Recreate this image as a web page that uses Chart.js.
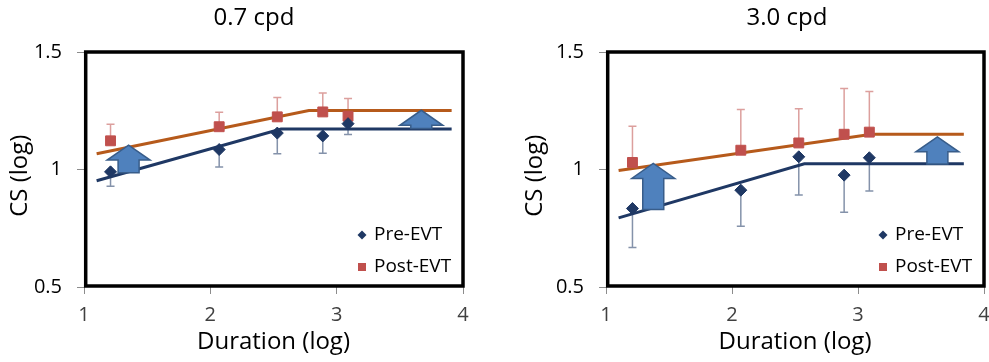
<!DOCTYPE html>
<html lang="en">
<head>
  <meta charset="UTF-8" />
  <title>CS vs Duration, pre/post EVT</title>
  <style>
    body {
      margin: 0;
      width: 989px;
      height: 362px;
      overflow: hidden;
      position: relative;
      background: #fff;
    }
    .panel {
      position: absolute;
      top: 0;
      height: 362px;
    }
    #panelLow { left: 0; width: 508px; }
    #panelHigh { left: 495px; width: 584px; }
  </style>
</head>
<body>
  <div class="panel" id="panelLow"><canvas id="chartLow" width="508" height="362"></canvas></div>
  <div class="panel" id="panelHigh"><canvas id="chartHigh" width="584" height="362"></canvas></div>

  <script src="https://cdn.jsdelivr.net/npm/chart.js"></script>
  <script>
    // durations (log) shared by both panels
    const durations = [1.21, 2.07, 2.53, 2.89, 3.09];

    // 0.7 cpd
    const lowPre = [0.99, 1.085, 1.155, 1.143, 1.195];
    const lowPreErr = [0.061, 0.074, 0.088, 0.074, 0.046];
    const lowPost = [1.122, 1.182, 1.224, 1.245, 1.227];
    const lowPostErr = [0.071, 0.062, 0.082, 0.081, 0.075];
    const lowPreFitX = [1.10, 2.56, 3.91];
    const lowPreFitY = [0.952, 1.172, 1.172];
    const lowPostFitX = [1.10, 2.78, 3.91];
    const lowPostFitY = [1.067, 1.251, 1.251];
    const lowArrowX = [1.353, 3.67];
    const lowArrowFrom = [0.986, 1.174];
    const lowArrowTo = [1.104, 1.252];

    // 3.0 cpd
    const highPre = [0.834, 0.912, 1.054, 0.976, 1.05];
    const highPreErr = [0.166, 0.153, 0.163, 0.158, 0.141];
    const highPost = [1.03, 1.082, 1.113, 1.15, 1.159];
    const highPostErr = [0.154, 0.173, 0.145, 0.195, 0.173];
    const highPreFitX = [1.10, 2.574, 3.84];
    const highPreFitY = [0.794, 1.024, 1.024];
    const highPostFitX = [1.10, 3.11, 3.84];
    const highPostFitY = [0.996, 1.15, 1.15];
    const highArrowX = [1.375, 3.63];
    const highArrowFrom = [0.83, 1.023];
    const highArrowTo = [1.026, 1.139];

    const yTicks = [0.5, 1, 1.5];
    const xTicks = [1, 2, 3, 4];

    const NAVY = '#1F3864';
    const RED = '#C0504D';
    const ORANGE = '#B65A1B';
    const ARROW_FILL = '#4F81BD';
    const ARROW_EDGE = '#385D8A';

    Chart.defaults.font.family = '"Open Sans", sans-serif';
    Chart.defaults.color = '#000';

    const toPoints = (xs, ys) => xs.map((x, i) => ({ x: x, y: ys[i] }));

    // error bars: pre goes down, post goes up
    const errorBarPlugin = {
      id: 'errorBars',
      beforeDatasetsDraw(chart, args, opts) {
        const { ctx } = chart;
        const xs = chart.scales.x, ys = chart.scales.y;
        ctx.save();
        opts.sets.forEach(set => {
          ctx.strokeStyle = set.color;
          ctx.lineWidth = 1.5;
          set.values.forEach((v, i) => {
            const px = xs.getPixelForValue(durations[i]);
            const p0 = ys.getPixelForValue(v);
            const p1 = ys.getPixelForValue(v + set.dir * set.err[i]);
            ctx.beginPath();
            ctx.moveTo(px, p0);
            ctx.lineTo(px, p1);
            ctx.moveTo(px - 4, p1);
            ctx.lineTo(px + 4, p1);
            ctx.stroke();
          });
        });
        ctx.restore();
      }
    };

    // block arrows showing the shift
    const arrowPlugin = {
      id: 'arrows',
      afterDatasetsDraw(chart, args, opts) {
        const { ctx } = chart;
        const xs = chart.scales.x, ys = chart.scales.y;
        const headH = 15, headW = 21.5, shaftW = 10.5;
        ctx.save();
        ctx.fillStyle = ARROW_FILL;
        ctx.strokeStyle = ARROW_EDGE;
        ctx.lineWidth = 1.5;
        opts.x.forEach((xv, i) => {
          const px = xs.getPixelForValue(xv);
          const pb = ys.getPixelForValue(opts.from[i]);
          const pt = ys.getPixelForValue(opts.to[i]);
          ctx.beginPath();
          ctx.moveTo(px - shaftW, pb);
          ctx.lineTo(px - shaftW, pt + headH);
          ctx.lineTo(px - headW, pt + headH);
          ctx.lineTo(px, pt);
          ctx.lineTo(px + headW, pt + headH);
          ctx.lineTo(px + shaftW, pt + headH);
          ctx.lineTo(px + shaftW, pb);
          ctx.closePath();
          ctx.fill();
          ctx.stroke();
        });
        ctx.restore();
      }
    };

    // plot frame and the in-plot legend
    const framePlugin = {
      id: 'frameLegend',
      afterDraw(chart) {
        const { ctx, chartArea: a } = chart;
        ctx.save();
        ctx.strokeStyle = '#000';
        ctx.lineWidth = 3.5;
        ctx.strokeRect(a.left + 1.7, a.top, a.right - a.left - 1.7, a.bottom - 1 - a.top);

        const mx = a.right - 101;
        const rows = [a.bottom - 52, a.bottom - 20];
        ctx.fillStyle = NAVY;
        ctx.beginPath();
        ctx.moveTo(mx - 4.5, rows[0]);
        ctx.lineTo(mx, rows[0] - 4.5);
        ctx.lineTo(mx + 4.5, rows[0]);
        ctx.lineTo(mx, rows[0] + 4.5);
        ctx.closePath();
        ctx.fill();
        ctx.fillStyle = RED;
        ctx.fillRect(mx - 4, rows[1] - 4, 8, 8);

        ctx.fillStyle = '#000';
        ctx.font = '19px "Open Sans", sans-serif';
        ctx.textBaseline = 'middle';
        ctx.textAlign = 'left';
        ctx.fillText(chart.data.datasets[0].label, mx + 12, rows[0]);
        ctx.fillText(chart.data.datasets[1].label, mx + 12, rows[1]);
        ctx.restore();
      }
    };

    function makeChart(id, cfg) {
      const tickMarks = { drawOnChartArea: false, drawTicks: true, tickLength: 7, color: '#8c8c8c' };
      return new Chart(document.getElementById(id), {
        type: 'scatter',
        data: {
          datasets: [
            {
              label: 'Pre-EVT',
              data: toPoints(durations, cfg.pre),
              pointStyle: 'rectRot',
              pointRadius: 6,
              backgroundColor: NAVY,
              borderColor: NAVY,
              borderWidth: 1,
              order: 1
            },
            {
              label: 'Post-EVT',
              data: toPoints(durations, cfg.post),
              pointStyle: 'rect',
              pointRadius: 7,
              backgroundColor: RED,
              borderColor: RED,
              borderWidth: 1,
              order: 2
            },
            {
              label: 'Pre fit',
              data: toPoints(cfg.preFitX, cfg.preFitY),
              showLine: true,
              pointRadius: 0,
              borderColor: NAVY,
              borderWidth: 3,
              order: 3
            },
            {
              label: 'Post fit',
              data: toPoints(cfg.postFitX, cfg.postFitY),
              showLine: true,
              pointRadius: 0,
              borderColor: ORANGE,
              borderWidth: 3,
              order: 4
            }
          ]
        },
        options: {
          responsive: false,
          animation: false,
          events: [],
          layout: { padding: 0 },
          plugins: {
            legend: { display: false },
            tooltip: { enabled: false },
            title: {
              display: true,
              text: cfg.title,
              color: '#000',
              font: { size: 24, weight: 'normal' },
              padding: { top: 4, bottom: 19.2 }
            },
            errorBars: {
              sets: [
                { values: cfg.pre, err: cfg.preErr, dir: -1, color: 'rgba(31,56,100,0.55)' },
                { values: cfg.post, err: cfg.postErr, dir: 1, color: 'rgba(192,80,77,0.55)' }
              ]
            },
            arrows: { x: cfg.arrowX, from: cfg.arrowFrom, to: cfg.arrowTo }
          },
          scales: {
            x: {
              type: 'linear',
              min: xTicks[0],
              max: xTicks[xTicks.length - 1],
              afterBuildTicks: s => { s.ticks = xTicks.map(v => ({ value: v })); },
              ticks: { padding: 9, color: '#404040', font: { size: 20 }, callback: v => String(v) },
              grid: tickMarks,
              border: { display: false },
              title: {
                display: true,
                text: 'Duration (log)',
                color: '#000',
                font: { size: 24 },
                padding: { top: 0, bottom: 5 }
              },
              afterFit: s => { s.height = 75; }
            },
            y: {
              type: 'linear',
              min: yTicks[0],
              max: yTicks[yTicks.length - 1],
              afterBuildTicks: s => { s.ticks = yTicks.map(v => ({ value: v })); },
              ticks: { padding: 15, color: '#000', font: { size: 20 }, callback: v => String(v) },
              grid: tickMarks,
              border: { display: false },
              title: {
                display: true,
                text: 'CS (log)  ',
                color: '#000',
                font: { size: 24 },
                padding: { top: cfg.yTitlePad, bottom: 0 }
              },
              afterFit: s => { s.width = cfg.leftWidth; }
            },
            spacer: {
              type: 'linear',
              position: 'right',
              display: true,
              ticks: { display: false },
              grid: { display: false },
              border: { display: false },
              afterFit: s => { s.width = cfg.rightWidth; }
            }
          }
        },
        plugins: [errorBarPlugin, arrowPlugin, framePlugin]
      });
    }

    makeChart('chartLow', {
      title: '0.7 cpd',
      pre: lowPre, preErr: lowPreErr, post: lowPost, postErr: lowPostErr,
      preFitX: lowPreFitX, preFitY: lowPreFitY, postFitX: lowPostFitX, postFitY: lowPostFitY,
      arrowX: lowArrowX, arrowFrom: lowArrowFrom, arrowTo: lowArrowTo,
      leftWidth: 84, rightWidth: 45, yTitlePad: 6
    });

    makeChart('chartHigh', {
      title: '3.0 cpd',
      pre: highPre, preErr: highPreErr, post: highPost, postErr: highPostErr,
      preFitX: highPreFitX, preFitY: highPreFitY, postFitX: highPostFitX, postFitY: highPostFitY,
      arrowX: highArrowX, arrowFrom: highArrowFrom, arrowTo: highArrowTo,
      leftWidth: 111, rightWidth: 95, yTitlePad: 26
    });
  </script>
</body>
</html>
